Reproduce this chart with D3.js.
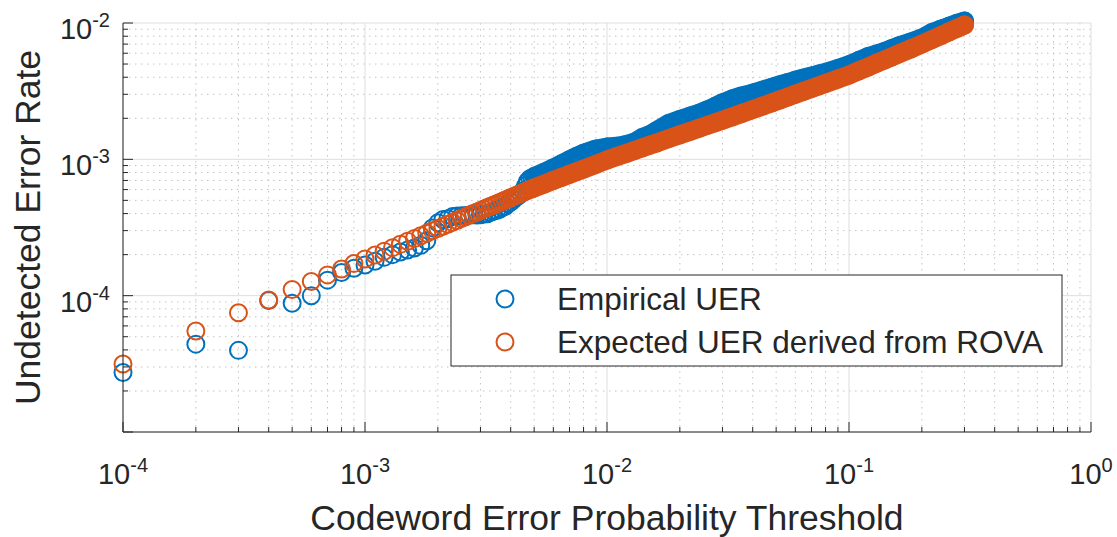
<!DOCTYPE html>
<html><head><meta charset="utf-8">
<script src="https://cdn.jsdelivr.net/npm/d3@7"></script>
<style>
body{margin:0;background:#fff;}
svg{display:block;}
text{font-family:"Liberation Sans",Arial,Helvetica,sans-serif;fill:#262626;}
</style>
</head><body>
<script>
// ---- data ----
const thresholds = [
0.0001,0.0002,0.0003,0.0004,0.0005,0.0006,0.0007,0.0008,0.0009,0.0010,
0.0011,0.0012,0.0013,0.0014,0.0015,0.0016,0.0017,0.0018,0.0019,0.0020,
0.0021,0.0022,0.0023,0.0024,0.0025,0.0026,0.0027,0.0028,0.0029,0.0030,
0.0031,0.0032,0.0033,0.0034,0.0035,0.0036,0.0037,0.0038,0.0039,0.0040,
0.0041,0.0042,0.0043,0.0044,0.0045,0.0046,0.0047,0.0048,0.0049,0.0050,
0.0055,0.0060,0.0065,0.0070,0.0075,0.0080,0.0090,0.010,
0.011,0.012,0.013,0.014,0.015,0.016,0.018,0.020,0.022,0.024,0.026,0.028,0.030,
0.033,0.036,0.040,0.044,0.048,0.052,0.056,0.060,0.065,0.070,0.075,0.080,0.090,0.100,
0.110,0.120,0.130,0.140,0.150,0.160,0.180,0.200,0.220,0.240,0.260,0.280,0.300];

const empiricalUER = [
2.73e-5,4.41e-5,3.97e-5,9.2e-5,8.8e-5,1.0e-4,1.30e-4,1.48e-4,1.59e-4,1.68e-4,
1.79e-4,1.91e-4,2.0e-4,2.09e-4,2.16e-4,2.24e-4,2.34e-4,2.53e-4,3.14e-4,3.42e-4,
3.62e-4,3.67e-4,3.80e-4,3.84e-4,3.86e-4,3.87e-4,3.90e-4,3.92e-4,3.90e-4,3.92e-4,
3.97e-4,3.99e-4,4.08e-4,4.17e-4,4.21e-4,4.30e-4,4.44e-4,4.53e-4,4.72e-4,4.86e-4,
5.06e-4,5.26e-4,5.41e-4,5.62e-4,5.88e-4,6.39e-4,6.90e-4,7.2e-4,7.31e-4,7.48e-4,
8.04e-4,8.65e-4,9.29e-4,9.91e-4,1.055e-3,1.107e-3,1.191e-3,1.231e-3,
1.247e-3,1.283e-3,1.339e-3,1.448e-3,1.515e-3,1.618e-3,1.833e-3,1.958e-3,2.074e-3,2.175e-3,2.307e-3,2.447e-3,2.601e-3,
2.78e-3,2.92e-3,3.06e-3,3.22e-3,3.38e-3,3.53e-3,3.66e-3,3.80e-3,3.95e-3,4.08e-3,4.22e-3,4.34e-3,4.64e-3,4.95e-3,
5.32e-3,5.67e-3,5.93e-3,6.18e-3,6.48e-3,6.77e-3,7.26e-3,7.76e-3,8.5e-3,9.02e-3,9.49e-3,9.95e-3,1.035e-2];

const expectedUER = [
3.15e-5,5.5e-5,7.5e-5,9.3e-5,1.11e-4,1.27e-4,1.42e-4,1.57e-4,1.72e-4,1.86e-4,
1.986e-4,2.12e-4,2.25e-4,2.38e-4,2.51e-4,2.63e-4,2.75e-4,2.87e-4,2.99e-4,3.11e-4,
3.23e-4,3.34e-4,3.45e-4,3.56e-4,3.68e-4,3.79e-4,3.90e-4,4.0e-4,4.11e-4,4.22e-4,
4.32e-4,4.43e-4,4.53e-4,4.63e-4,4.73e-4,4.83e-4,4.93e-4,5.03e-4,5.13e-4,5.23e-4,
5.33e-4,5.42e-4,5.52e-4,5.62e-4,5.71e-4,5.81e-4,5.90e-4,6.0e-4,6.09e-4,6.18e-4,
6.59e-4,7.0e-4,7.38e-4,7.76e-4,8.13e-4,8.49e-4,9.2e-4,9.89e-4,
1.047e-3,1.105e-3,1.161e-3,1.215e-3,1.268e-3,1.318e-3,1.418e-3,1.514e-3,1.603e-3,1.690e-3,1.775e-3,1.858e-3,1.936e-3,
2.05e-3,2.168e-3,2.317e-3,2.46e-3,2.60e-3,2.735e-3,2.87e-3,3.0e-3,3.155e-3,3.305e-3,3.455e-3,3.6e-3,3.88e-3,4.15e-3,
4.46e-3,4.76e-3,5.06e-3,5.35e-3,5.63e-3,5.92e-3,6.46e-3,7.0e-3,7.55e-3,8.09e-3,8.63e-3,9.14e-3,9.66e-3];

const seriesNames = ["Empirical UER", "Expected UER derived from ROVA"];
const xTickExponents = [-4, -3, -2, -1, 0];
const yTickExponents = [-4, -3, -2];
const xTitle = "Codeword Error Probability Threshold";
const yTitle = "Undetected Error Rate";

// ---- layout ----
const W = 1117, H = 537;
const P = {left:123, right:1091, top:23, bottom:432};
const BLUE = "#0072BD", ORANGE = "#D95319", AX = "#262626";
const R = 8.5, SW = 2;

const svg = d3.select("body").append("svg").attr("width", W).attr("height", H);
const x = d3.scaleLog().domain([1e-4, 1]).range([P.left, P.right]);
const y = d3.scaleLog().domain([1e-5, 1e-2]).range([P.bottom, P.top]);

function minors(lo, hi){ const o=[]; for(let e=lo;e<hi;e++){ for(let m=2;m<=9;m++) o.push(m*Math.pow(10,e)); } return o; }
const xMinor = minors(-4, 0), yMinor = minors(-5, -2);
const xMajor = d3.range(-4, 1).map(e => Math.pow(10, e));
const yMajor = d3.range(-5, -1).map(e => Math.pow(10, e));

// grid
const g = svg.append("g");
g.selectAll(".xmin").data(xMinor).join("line")
  .attr("x1", d=>x(d)).attr("x2", d=>x(d)).attr("y1", P.top).attr("y2", P.bottom)
  .attr("stroke", "#c4c4c4").attr("stroke-width", 1).attr("stroke-dasharray", "1.5,4.5");
g.selectAll(".ymin").data(yMinor).join("line")
  .attr("y1", d=>y(d)).attr("y2", d=>y(d)).attr("x1", P.left).attr("x2", P.right)
  .attr("stroke", "#c4c4c4").attr("stroke-width", 1).attr("stroke-dasharray", "1.5,4.5");
g.selectAll(".xmaj").data(xMajor).join("line")
  .attr("x1", d=>x(d)).attr("x2", d=>x(d)).attr("y1", P.top).attr("y2", P.bottom)
  .attr("stroke", "#dedede").attr("stroke-width", 1);
g.selectAll(".ymaj").data(yMajor).join("line")
  .attr("y1", d=>y(d)).attr("y2", d=>y(d)).attr("x1", P.left).attr("x2", P.right)
  .attr("stroke", "#dedede").attr("stroke-width", 1);

// data
const pts = thresholds.map((t,i)=>({t, e:empiricalUER[i], p:expectedUER[i]}));
const dense = pts.filter(d => d.t >= 0.005);

function drawSeries(key, color){
  const gs = svg.append("g");
  gs.selectAll("circle").data(pts).join("circle")
    .attr("cx", d=>x(d.t)).attr("cy", d=>y(d[key])).attr("r", R)
    .attr("fill", "none").attr("stroke", color).attr("stroke-width", SW);
  gs.append("path").datum(dense)
    .attr("d", d3.line().x(d=>x(d.t)).y(d=>y(d[key])))
    .attr("fill", "none").attr("stroke", color).attr("stroke-width", 2*R+SW)
    .attr("stroke-linecap", "round").attr("stroke-linejoin", "round");
}
drawSeries("e", BLUE);
drawSeries("p", ORANGE);

// axes (ticks inward)
const ax = svg.append("g").attr("stroke", AX).attr("stroke-width", 1);
ax.append("line").attr("x1", P.left).attr("x2", P.right).attr("y1", P.bottom).attr("y2", P.bottom);
ax.append("line").attr("x1", P.left).attr("x2", P.left).attr("y1", P.top).attr("y2", P.bottom);
ax.selectAll(".xtM").data(xMajor).join("line").attr("x1", d=>x(d)).attr("x2", d=>x(d)).attr("y1", P.bottom).attr("y2", P.bottom-10);
ax.selectAll(".xtm").data(xMinor).join("line").attr("x1", d=>x(d)).attr("x2", d=>x(d)).attr("y1", P.bottom).attr("y2", P.bottom-5);
ax.selectAll(".ytM").data(yMajor).join("line").attr("y1", d=>y(d)).attr("y2", d=>y(d)).attr("x1", P.left).attr("x2", P.left+10);
ax.selectAll(".ytm").data(yMinor).join("line").attr("y1", d=>y(d)).attr("y2", d=>y(d)).attr("x1", P.left).attr("x2", P.left+5);

// tick labels
xTickExponents.forEach(e => {
  const t = svg.append("text").attr("x", x(Math.pow(10,e))).attr("y", 484)
    .attr("text-anchor", "middle").attr("font-size", 29);
  t.append("tspan").text("10");
  t.append("tspan").attr("dy", -12).attr("font-size", 20).text(String(e));
});
yTickExponents.forEach(e => {
  const t = svg.append("text").attr("x", 110).attr("y", y(Math.pow(10,e)) + 16)
    .attr("text-anchor", "end").attr("font-size", 29);
  t.append("tspan").text("10");
  t.append("tspan").attr("dy", -12).attr("font-size", 20).text(String(e));
});

// titles
svg.append("text").attr("x", (P.left+P.right)/2).attr("y", 530).attr("text-anchor", "middle")
  .attr("font-size", 35.5).text(xTitle);
svg.append("text").attr("transform", `translate(40,${(P.top+P.bottom)/2}) rotate(-90)`)
  .attr("text-anchor", "middle").attr("font-size", 35.5).text(yTitle);

// legend
const lg = svg.append("g");
lg.append("rect").attr("x", 451).attr("y", 275).attr("width", 611).attr("height", 91)
  .attr("fill", "#fff").attr("stroke", AX).attr("stroke-width", 1);
const colors = [BLUE, ORANGE];
seriesNames.forEach((name, i) => {
  const cy = 299 + i*43;
  lg.append("circle").attr("cx", 505).attr("cy", cy).attr("r", R)
    .attr("fill", "none").attr("stroke", colors[i]).attr("stroke-width", SW);
  lg.append("text").attr("x", 557).attr("y", cy + 11).attr("font-size", 31.5).text(name);
});
</script>
</body></html>
